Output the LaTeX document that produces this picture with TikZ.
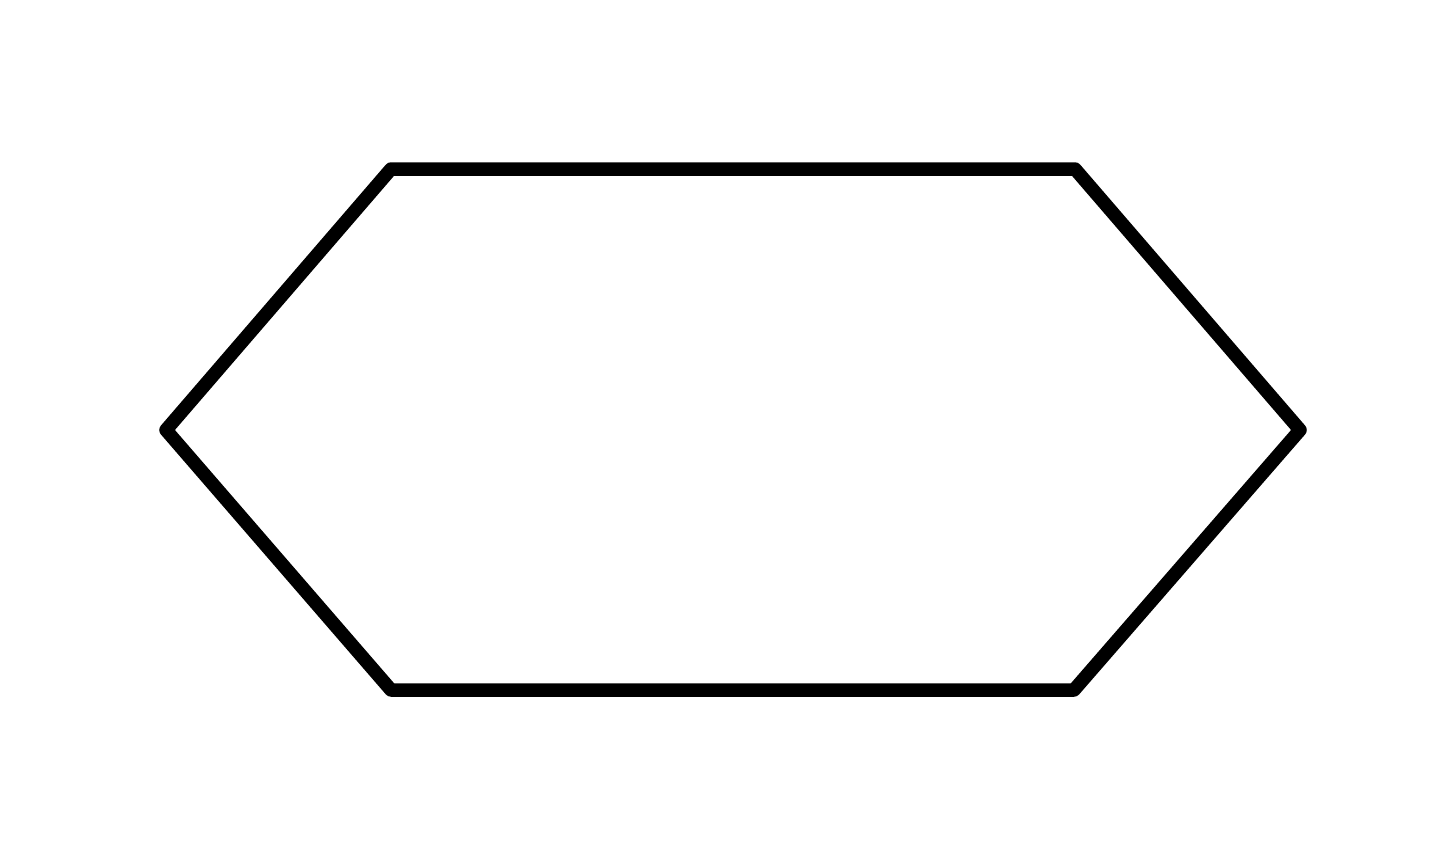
\documentclass[tikz,border=0pt]{standalone}
\begin{document}
\begin{tikzpicture}[x=1pt,y=-1pt,hexline/.style={draw=black,line width=13.5pt,line join=round}]
\useasboundingbox (0,0) rectangle (1440,849);
\coordinate (a) at (391,169);
\coordinate (b) at (1075,169);
\coordinate (c) at (1300,430);
\coordinate (d) at (1074,690);
\coordinate (e) at (391,690);
\coordinate (f) at (166,430);
\draw[hexline] (a) -- (b) -- (c) -- (d) -- (e) -- (f) -- cycle;
\end{tikzpicture}
\end{document}
